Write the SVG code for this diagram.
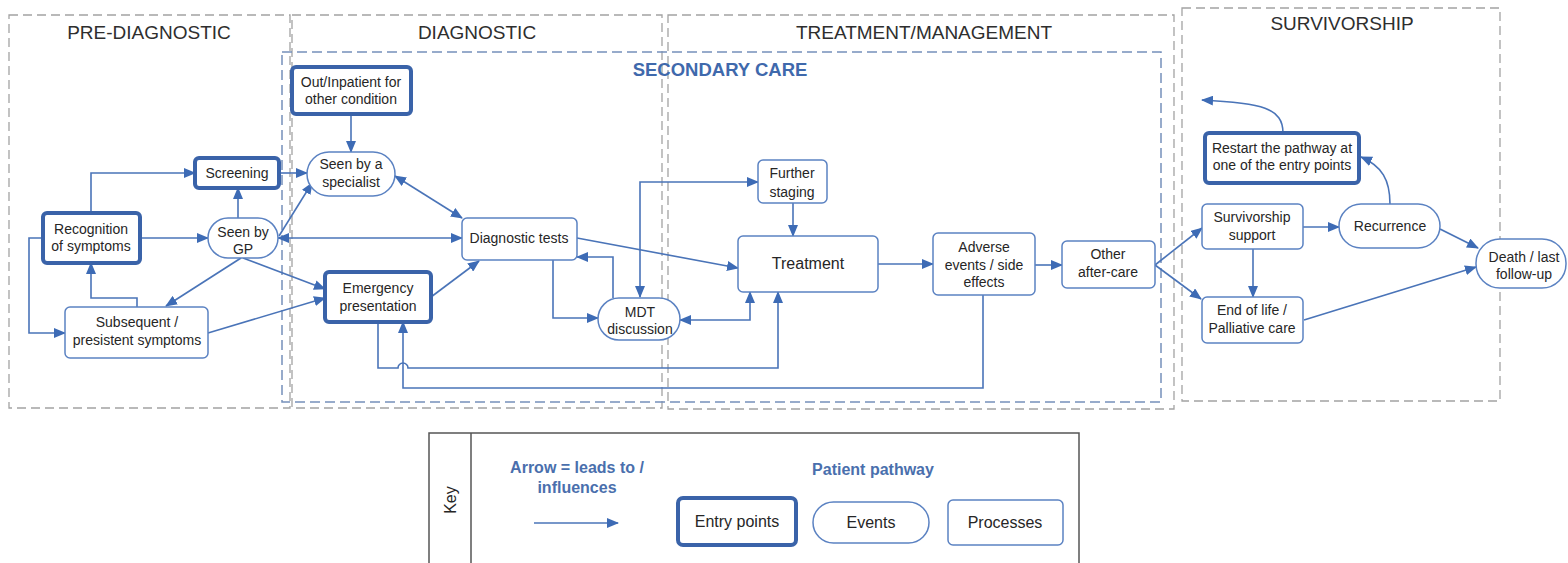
<svg xmlns="http://www.w3.org/2000/svg" width="1568" height="563" viewBox="0 0 1568 563">
<defs>
<marker id="ah" markerUnits="userSpaceOnUse" markerWidth="12" markerHeight="10" refX="11" refY="5" orient="auto-start-reverse" viewBox="0 0 12 10">
<path d="M0,0 L12,5 L0,10 Z" fill="#3d6bb5"/>
</marker>
</defs>
<style>
text{font-family:"Liberation Sans",Arial,sans-serif;fill:#262626;text-anchor:middle}
.node text{font-size:14px}
.hdr{font-size:19px;fill:#2e2e2e}
.phase{fill:none;stroke:#a3a3a3;stroke-width:1.3;stroke-dasharray:9,5}
.sec{fill:none;stroke:#7590bb;stroke-width:1.5;stroke-dasharray:10,5}
.entry{fill:#fff;stroke:#3a63a9;stroke-width:4}
.proc{fill:#fff;stroke:#5b82c2;stroke-width:1.5}
.evt{fill:#fff;stroke:#5b82c2;stroke-width:1.5}
.c{fill:none;stroke:#4a74b8;stroke-width:1.6;marker-end:url(#ah)}
.d{marker-start:url(#ah)}
.keyt{font-size:16px;font-weight:bold;fill:#4a6fad}
.kl{font-size:16px}
</style>
<rect width="1568" height="563" fill="#fff"/>

<g id="phases">
<rect class="phase" x="9" y="15" width="281" height="393"/>
<rect class="phase" x="292" y="15" width="370" height="393"/>
<rect class="phase" x="668" y="15" width="506" height="394"/>
<rect class="phase" x="1182" y="8" width="318" height="393"/>
<rect class="sec" x="282" y="52" width="879" height="350"/>
<text class="hdr" x="149" y="39">PRE-DIAGNOSTIC</text>
<text class="hdr" x="477" y="39">DIAGNOSTIC</text>
<text class="hdr" x="924" y="39">TREATMENT/MANAGEMENT</text>
<text class="hdr" x="1342" y="30">SURVIVORSHIP</text>
<text x="720" y="76" style="font-size:18.5px;font-weight:bold;fill:#3f69ac">SECONDARY CARE</text>
</g>

<g id="connectors">
<path class="c" d="M91,213 V173 H195"/>
<path class="c" d="M140,238 H208"/>
<path class="c" d="M238,218 V188"/>
<path class="c" d="M43,238 H29 V333 H65"/>
<path class="c" d="M137,307 V298 H91 V263"/>
<path class="c" d="M241,258 L166,306"/>
<path class="c" d="M243,258 L325,289"/>
<path class="c" d="M208,333 L325,298"/>
<path class="c" d="M279,173 H307"/>
<path class="c" d="M279,236 L312,183"/>
<path class="c d" d="M278,238 H462"/>
<path class="c d" d="M395,176 L462,218"/>
<path class="c" d="M351,114 V152"/>
<path class="c" d="M431,297 L479,261"/>
<path class="c" d="M553,260 V318 H598"/>
<path class="c" d="M613,298 V257 H577"/>
<path class="c d" d="M640,297 V182 H758"/>
<path class="c" d="M577,238 L738,268"/>
<path class="c d" d="M680,320 H750 V292"/>
<path class="c" d="M378,322 V368 H398 A5,5 0 0 1 408,368 H778 V292"/>
<path class="c" d="M983,295 V388 H403 V322"/>
<path class="c" d="M793,203 V236"/>
<path class="c" d="M878,264 H933"/>
<path class="c" d="M1035,265 H1062"/>
<path class="c" d="M1155,265 L1202,228"/>
<path class="c" d="M1155,265 L1201,299"/>
<path class="c" d="M1303,227 H1339"/>
<path class="c" d="M1253,249 V297"/>
<path class="c" d="M1390,204 C1390,180 1382,166 1361,157"/>
<path class="c" d="M1283,133 C1283,108 1262,103 1202,100"/>
<path class="c" d="M1440,229 L1478,248"/>
<path class="c" d="M1304,320 L1476,267"/>
</g>

<g id="n-screening" class="node"><rect class="entry" x="195" y="158" width="84" height="30" rx="4"/><text x="237" y="178">Screening</text></g>
<g id="n-recognition" class="node"><rect class="entry" x="43" y="213" width="97" height="50" rx="4"/><text x="91" y="234">Recognition</text><text x="91" y="251">of symptoms</text></g>
<g id="n-gp" class="node"><rect class="evt" x="208" y="218" width="70" height="40" rx="20"/><text x="243" y="237">Seen by</text><text x="243" y="254">GP</text></g>
<g id="n-subsequent" class="node"><rect class="proc" x="65" y="307" width="143" height="51" rx="5"/><text x="137" y="327">Subsequent /</text><text x="137" y="345">presistent symptoms</text></g>
<g id="n-outinpatient" class="node"><rect class="entry" x="292" y="67" width="119" height="47" rx="4"/><text x="351" y="87">Out/Inpatient for</text><text x="351" y="104">other condition</text></g>
<g id="n-specialist" class="node"><rect class="evt" x="307" y="152" width="88" height="44" rx="22"/><text x="351" y="169">Seen by a</text><text x="351" y="187">specialist</text></g>
<g id="n-diagtests" class="node"><rect class="proc" x="462" y="218" width="115" height="42" rx="5"/><text x="519" y="243">Diagnostic tests</text></g>
<g id="n-emergency" class="node"><rect class="entry" x="325" y="272" width="106" height="50" rx="4"/><text x="378" y="293">Emergency</text><text x="378" y="311">presentation</text></g>
<g id="n-mdt" class="node"><rect class="evt" x="598" y="298" width="82" height="42" rx="21"/><text x="640" y="317">MDT</text><text x="640" y="334">discussion</text></g>
<g id="n-staging" class="node"><rect class="proc" x="758" y="160" width="69" height="43" rx="5"/><text x="792" y="178">Further</text><text x="792" y="197">staging</text></g>
<g id="n-treatment" class="node"><rect class="proc" x="738" y="236" width="140" height="56" rx="5"/><text x="808" y="269" style="font-size:16px">Treatment</text></g>
<g id="n-adverse" class="node"><rect class="proc" x="933" y="233" width="102" height="62" rx="5"/><text x="984" y="252">Adverse</text><text x="984" y="270">events / side</text><text x="984" y="287">effects</text></g>
<g id="n-aftercare" class="node"><rect class="proc" x="1062" y="241" width="93" height="47" rx="5"/><text x="1108" y="259">Other</text><text x="1108" y="277">after-care</text></g>
<g id="n-restart" class="node"><rect class="entry" x="1205" y="133" width="154" height="50" rx="4"/><text x="1282" y="153">Restart the pathway at</text><text x="1282" y="170">one of the entry points</text></g>
<g id="n-survivorship" class="node"><rect class="proc" x="1202" y="204" width="101" height="45" rx="5"/><text x="1252" y="222">Survivorship</text><text x="1252" y="240">support</text></g>
<g id="n-recurrence" class="node"><rect class="evt" x="1339" y="204" width="101" height="44" rx="22"/><text x="1390" y="231">Recurrence</text></g>
<g id="n-death" class="node"><rect class="evt" x="1476" y="239" width="90" height="49" rx="24"/><text x="1524" y="262">Death / last</text><text x="1524" y="279">follow-up</text></g>
<g id="n-endoflife" class="node"><rect class="proc" x="1202" y="297" width="101" height="46" rx="5"/><text x="1252" y="315">End of life /</text><text x="1252" y="333">Palliative care</text></g>

<g id="key">
<rect x="429" y="433" width="650" height="140" fill="none" stroke="#555" stroke-width="1.5"/>
<line x1="471" y1="433" x2="471" y2="563" stroke="#555" stroke-width="1.5"/>
<text class="kl" x="456" y="500" transform="rotate(-90 456 500)">Key</text>
<text class="keyt" x="577" y="473">Arrow = leads to /</text>
<text class="keyt" x="577" y="493">influences</text>
<path class="c" d="M534,523 H618"/>
<text class="keyt" x="873" y="475">Patient pathway</text>
<rect class="entry" x="678" y="498" width="118" height="47" rx="5"/>
<text class="kl" x="737" y="527">Entry points</text>
<rect class="evt" x="813" y="502" width="116" height="41" rx="20.5"/>
<text class="kl" x="871" y="528">Events</text>
<rect class="proc" x="948" y="500" width="115" height="45" rx="5"/>
<text class="kl" x="1005" y="528">Processes</text>
</g>
</svg>
